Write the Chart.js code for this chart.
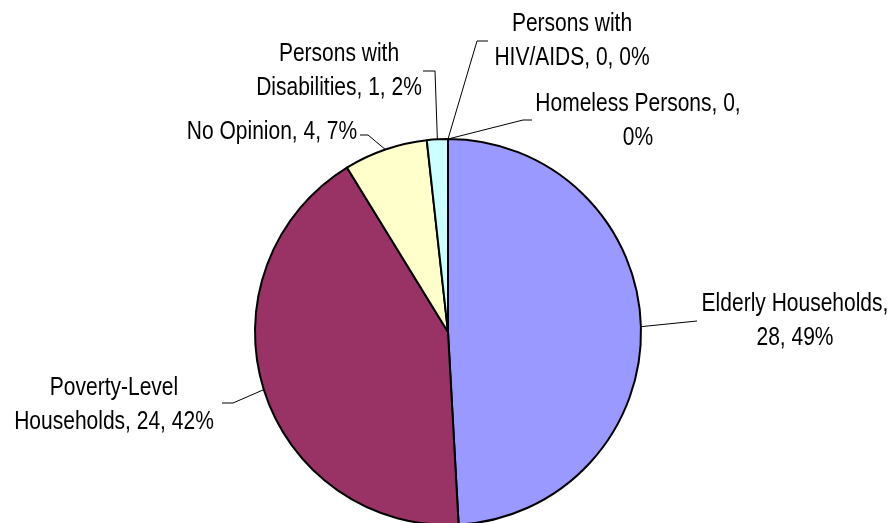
<!DOCTYPE html>
<html>
<head>
<meta charset="utf-8">
<script src="https://cdn.jsdelivr.net/npm/chart.js@4.4.0/dist/chart.umd.min.js"></script>
<style>
  html, body { margin: 0; padding: 0; background: #fff; overflow: hidden; }
  #wrap { position: relative; width: 892px; height: 530px; }
</style>
</head>
<body>
<div id="wrap"><canvas id="pie"></canvas></div>
<script>
// Data
const categories = [
  "Elderly Households",
  "Poverty-Level Households",
  "No Opinion",
  "Persons with Disabilities",
  "Persons with HIV/AIDS",
  "Homeless Persons",
];
const counts = [28, 24, 4, 1, 0, 0];
const sliceColors = ["#9999FF", "#993366", "#FFFFCC", "#CCFFFF", "#FFFFFF", "#FFFFFF"];

// Label placement relative to the pie centre (Excel put these by hand)
// dx = text centre, dy = first baseline, wrap = words on the first line
const labelLayout = [
  { dx: 347, dy: -21, wrap: 2, elbow: [[249, -11]] },
  { dx: -334, dy: 63, wrap: 1, elbow: [[-215, 71], [-226, 71]] },
  { dx: -176, dy: -193, wrap: 99, elbow: [[-80, -197], [-88, -197]] },
  { dx: -109, dy: -271, wrap: 2, elbow: [[-13, -261], [-25, -261]] },
  { dx: 124, dy: -301, wrap: 2, elbow: [[29, -291], [40, -291]] },
  { dx: 190, dy: -221, wrap: 3, elbow: [[75, -212], [84, -212]] },
];

// Arial Narrow look-alike: Liberation Sans squeezed horizontally
const FONT = "25px 'Liberation Sans', Arial, sans-serif";
const SQUEEZE = 0.84;
const LINE_H = 33.5;

const total = counts.reduce((a, b) => a + b, 0);

function labelLines(i) {
  const pct = Math.round((counts[i] / total) * 100);
  const words = `${categories[i]}, ${counts[i]}, ${pct}%`.split(" ");
  const n = labelLayout[i].wrap;
  const first = words.slice(0, n).join(" ");
  const rest = words.slice(n).join(" ");
  return rest ? [first, rest] : [first];
}

// Draws Excel-style data labels with leader lines
const leaderLabels = {
  id: "leaderLabels",
  afterDatasetsDraw(chart) {
    const ctx = chart.ctx;
    const arcs = chart.getDatasetMeta(0).data;
    ctx.save();
    ctx.fillStyle = "#000";
    ctx.strokeStyle = "#000";
    ctx.lineWidth = 1;
    arcs.forEach((arc, i) => {
      const { x, y, startAngle, endAngle, outerRadius } = arc.getProps(
        ["x", "y", "startAngle", "endAngle", "outerRadius"], true);
      const mid = (startAngle + endAngle) / 2;
      const lay = labelLayout[i];
      ctx.beginPath();
      ctx.moveTo(x + Math.cos(mid) * outerRadius, y + Math.sin(mid) * outerRadius);
      lay.elbow.forEach(([ex, ey]) => ctx.lineTo(x + ex, y + ey));
      ctx.stroke();
      labelLines(i).forEach((line, k) => {
        ctx.save();
        ctx.translate(x + lay.dx, y + lay.dy + k * LINE_H);
        ctx.scale(SQUEEZE, 1);
        ctx.font = FONT;
        ctx.textAlign = "center";
        ctx.textBaseline = "alphabetic";
        ctx.fillText(line, 0, 0);
        ctx.restore();
      });
    });
    ctx.restore();
  },
};

new Chart(document.getElementById("pie"), {
  type: "pie",
  data: {
    labels: categories,
    datasets: [{
      data: counts,
      backgroundColor: sliceColors,
      borderColor: "#000",
      borderWidth: 2,
      borderAlign: "center",
    }],
  },
  options: {
    responsive: true,
    maintainAspectRatio: false,
    animation: false,
    layout: { padding: { top: 138, bottom: 4, left: 4, right: 0 } },
    plugins: {
      legend: { display: false },
      tooltip: { enabled: false },
    },
  },
  plugins: [leaderLabels],
});
</script>
</body>
</html>
